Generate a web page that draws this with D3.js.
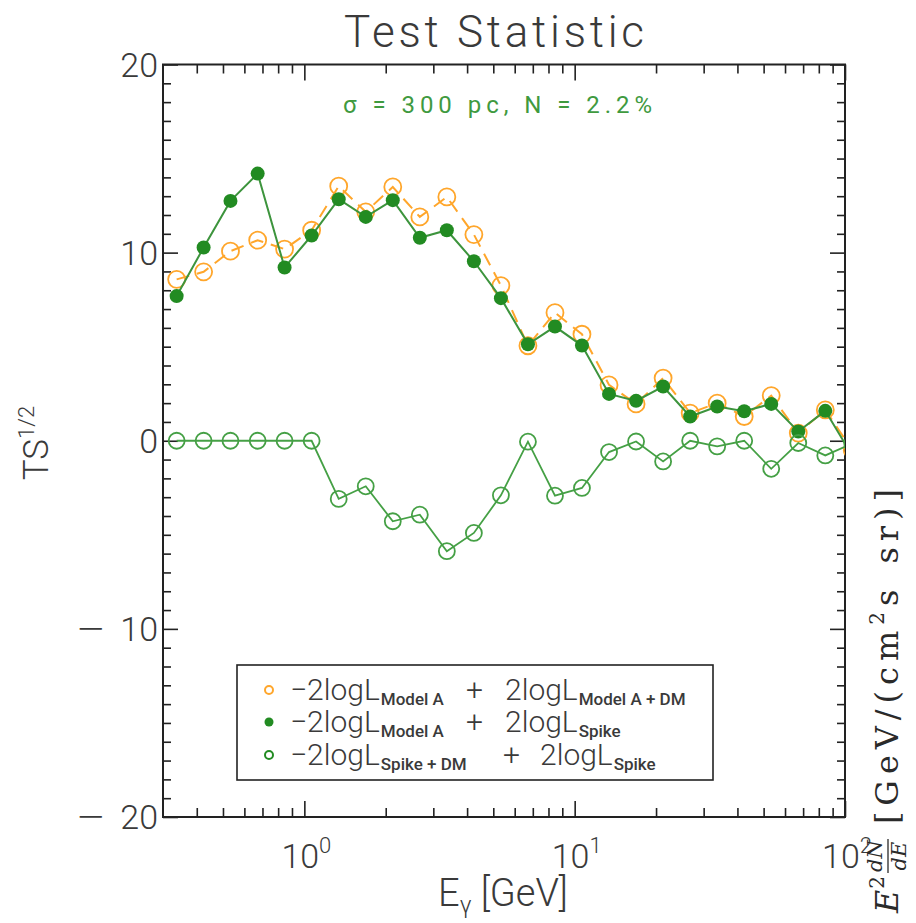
<!DOCTYPE html>
<html>
<head>
<meta charset="utf-8">
<script src="https://cdn.jsdelivr.net/npm/d3@7"></script>
<style>
  body { margin: 0; background: #fff; }
  svg { display: block; }
</style>
</head>
<body>
<script>
// Photon energy bin centres [GeV]
const energy = [0.337, 0.424, 0.533, 0.672, 0.845, 1.064, 1.340, 1.687, 2.124, 2.674,
                3.366, 4.238, 5.335, 6.716, 8.455, 10.64, 13.40, 16.87, 21.24, 26.74,
                33.66, 42.38, 53.35, 67.16, 84.55, 106.4];
// -2logL(Model A) + 2logL(Model A + DM)
const tsModelADM = [8.58, 8.98, 10.08, 10.66, 10.19, 11.19, 13.53, 12.17, 13.49, 11.90,
                    12.96, 10.96, 8.25, 5.05, 6.81, 5.66, 2.97, 1.96, 3.33, 1.47,
                    2.00, 1.29, 2.40, 0.41, 1.64, -0.5];
// -2logL(Model A) + 2logL(Spike)
const tsSpike = [7.69, 10.27, 12.75, 14.20, 9.21, 10.91, 12.84, 11.90, 12.79, 10.79,
                 11.19, 9.54, 7.58, 5.13, 6.07, 5.06, 2.49, 2.12, 2.88, 1.29,
                 1.82, 1.57, 1.96, 0.49, 1.59, -0.8];
// -2logL(Spike + DM) + 2logL(Spike)
const tsSpikeDM = [0, 0, 0, 0, 0, 0, -3.09, -2.42, -4.28, -3.93,
                   -5.87, -4.90, -2.90, -0.05, -2.92, -2.51, -0.60, -0.04, -1.10, 0,
                   -0.30, 0, -1.49, -0.12, -0.78, -0.15];

const yTickValues = [-20, -10, 0, 10, 20];
const xTickValues = [1, 10, 100];
const xTickExponents = ["0", "1", "2"];

const W = 916, H = 923;
const M = { left: 163, right: 845, top: 64.5, bottom: 817 };
const SANS = "Roboto, 'Liberation Sans', Arial, sans-serif";
const SERIF = "'DejaVu Serif', 'Liberation Serif', 'Times New Roman', serif";
const INK = "#3a3a3a";
const LIGHT = 300;
const ORANGE = "#ffa62b";
const GREEN = "#228b22";
const GREEN_LINE = "#3d943d";
const GREEN_OPEN = "#45a045";

const svg = d3.select("body").append("svg")
  .attr("width", W).attr("height", H)
  .attr("viewBox", `0 0 ${W} ${H}`);
svg.append("rect").attr("width", W).attr("height", H).attr("fill", "#fff");

const x = d3.scaleLog().domain([0.3, 100]).range([M.left, M.right]);
const y = d3.scaleLinear().domain([-20, 20]).range([M.bottom, M.top]);

// ---- inward ticks on all four sides ----
const minorY = d3.range(-20, 21, 1).filter(v => v % 10 !== 0);
const minorX = [];
[0.1, 1, 10].forEach(d => {
  for (let m = 2; m <= 9; m++) {
    const v = m * d;
    if (v > 0.3 + 1e-9 && v < 100) minorX.push(v);
  }
});

function tickAxis(axis, tx, ty) {
  const g = svg.append("g").attr("transform", `translate(${tx},${ty})`).call(axis);
  g.select(".domain").remove();
  g.selectAll("text").remove();
  g.selectAll("line").attr("stroke", "#222").attr("stroke-width", 1.6);
  return g;
}
tickAxis(d3.axisLeft(y).tickValues(minorY).tickSize(-8), M.left, 0);
tickAxis(d3.axisLeft(y).tickValues(yTickValues).tickSize(-15), M.left, 0);
tickAxis(d3.axisRight(y).tickValues(minorY).tickSize(-8), M.right, 0);
tickAxis(d3.axisRight(y).tickValues(yTickValues).tickSize(-15), M.right, 0);
tickAxis(d3.axisBottom(x).tickValues(minorX).tickSize(-9), 0, M.bottom);
tickAxis(d3.axisBottom(x).tickValues(xTickValues).tickSize(-16), 0, M.bottom);
tickAxis(d3.axisTop(x).tickValues(minorX).tickSize(-9), 0, M.top);
tickAxis(d3.axisTop(x).tickValues(xTickValues).tickSize(-16), 0, M.top);

// frame
svg.append("rect")
  .attr("x", M.left).attr("y", M.top)
  .attr("width", M.right - M.left).attr("height", M.bottom - M.top)
  .attr("fill", "none").attr("stroke", "#222").attr("stroke-width", 2);

// ---- tick labels ----
const yLab = svg.append("g").attr("font-family", SANS).attr("font-weight", LIGHT)
  .attr("font-size", 34).attr("fill", INK);
yTickValues.forEach(v => {
  const base = y(v) + 12;
  yLab.append("text")
    .attr("x", 158).attr("y", base)
    .attr("text-anchor", "end")
    .text(String(Math.abs(v)));
  if (v < 0) {
    // wide, thin minus sign set apart from the digits
    yLab.append("text")
      .attr("transform", `translate(75,${base}) scale(1.6,1)`)
      .text("\u2212");
  }
});

const xLab = svg.append("g").attr("font-family", SANS).attr("font-weight", LIGHT).attr("fill", INK);
xTickValues.forEach((v, i) => {
  const t = xLab.append("text")
    .attr("x", x(v) + 2).attr("y", 868)
    .attr("text-anchor", "middle").attr("font-size", 34);
  t.append("tspan").text("10");
  t.append("tspan").attr("dy", -15).attr("font-size", 22).text(xTickExponents[i]);
});

// ---- axis titles ----
svg.append("text")
  .attr("x", 494).attr("y", 47)
  .attr("text-anchor", "middle")
  .attr("font-family", SANS).attr("font-weight", LIGHT)
  .attr("font-size", 44).attr("fill", INK)
  .attr("textLength", 300).attr("lengthAdjust", "spacing")
  .text("Test Statistic");

const yTitle = svg.append("text")
  .attr("transform", "translate(48,443) rotate(-90)")
  .attr("text-anchor", "middle")
  .attr("font-family", SANS).attr("font-weight", LIGHT)
  .attr("font-size", 35).attr("fill", INK);
yTitle.append("tspan").text("TS");
yTitle.append("tspan").attr("dy", -14).attr("font-size", 22).text("1/2");

const xTitle = svg.append("text")
  .attr("x", 503).attr("y", 906)
  .attr("text-anchor", "middle")
  .attr("font-family", SANS).attr("font-weight", LIGHT)
  .attr("font-size", 38).attr("fill", INK);
xTitle.append("tspan").text("E");
xTitle.append("tspan").attr("dy", 7).attr("font-size", 24).text("\u03b3");
xTitle.append("tspan").attr("dy", -7).text(" [GeV]");

// annotation
svg.append("text")
  .attr("x", 343).attr("y", 113)
  .attr("font-family", SANS).attr("font-size", 24).attr("fill", "#3f9a3f")
  .attr("textLength", 309).attr("lengthAdjust", "spacing")
  .text("\u03c3 = 300 pc, N = 2.2%");

// ---- data ----
svg.append("clipPath").attr("id", "plotClip")
  .append("rect")
  .attr("x", M.left).attr("y", M.top)
  .attr("width", M.right - M.left).attr("height", M.bottom - M.top);
const plot = svg.append("g").attr("clip-path", "url(#plotClip)");

function series(values) {
  return values.map((v, i) => ({ e: energy[i], v }));
}
const line = d3.line().x(d => x(d.e)).y(d => y(d.v));

// Model A vs Model A + DM : orange dashed with open circles
const sA = series(tsModelADM);
plot.append("path").datum(sA).attr("d", line)
  .attr("fill", "none").attr("stroke", ORANGE).attr("stroke-width", 2)
  .attr("stroke-dasharray", "13,8");
plot.selectAll(".ptA").data(sA).join("circle")
  .attr("cx", d => x(d.e)).attr("cy", d => y(d.v)).attr("r", 8.5)
  .attr("fill", "none").attr("stroke", ORANGE).attr("stroke-width", 1.8);

// Model A vs Spike : green solid with filled circles
const sS = series(tsSpike);
plot.append("path").datum(sS).attr("d", line)
  .attr("fill", "none").attr("stroke", GREEN_LINE).attr("stroke-width", 2);
plot.selectAll(".ptS").data(sS).join("circle")
  .attr("cx", d => x(d.e)).attr("cy", d => y(d.v)).attr("r", 7)
  .attr("fill", GREEN).attr("stroke", "none");

// Spike + DM vs Spike : green solid with open circles
const sD = series(tsSpikeDM);
plot.append("path").datum(sD).attr("d", line)
  .attr("fill", "none").attr("stroke", GREEN_OPEN).attr("stroke-width", 1.8);
plot.selectAll(".ptD").data(sD).join("circle")
  .attr("cx", d => x(d.e)).attr("cy", d => y(d.v)).attr("r", 8)
  .attr("fill", "none").attr("stroke", GREEN_OPEN).attr("stroke-width", 1.8);

// ---- legend ----
const leg = svg.append("g").attr("font-family", SANS).attr("fill", INK);
leg.append("rect")
  .attr("x", 237).attr("y", 665).attr("width", 476).attr("height", 115)
  .attr("fill", "#fff").attr("stroke", "#222").attr("stroke-width", 1.6);

const legendRows = [
  { cy: 690, marker: "open", color: ORANGE,
    parts: [["\u22122logL", 290, "Model A"], ["+", 466, null], ["2logL", 505, "Model A + DM"]] },
  { cy: 722, marker: "filled", color: GREEN,
    parts: [["\u22122logL", 290, "Model A"], ["+", 466, null], ["2logL", 505, "Spike"]] },
  { cy: 755, marker: "open", color: GREEN,
    parts: [["\u22122logL", 290, "Spike + DM"], ["+", 503, null], ["2logL", 540, "Spike"]] }
];
legendRows.forEach(r => {
  leg.append("circle")
    .attr("cx", 269).attr("cy", r.cy).attr("r", r.marker === "filled" ? 4.5 : 4)
    .attr("fill", r.marker === "filled" ? r.color : "none")
    .attr("stroke", r.marker === "filled" ? "none" : r.color)
    .attr("stroke-width", 2);
  r.parts.forEach(([main, px, sub]) => {
    const t = leg.append("text").attr("x", px).attr("y", r.cy + 10).attr("font-size", 30)
      .attr("font-weight", LIGHT);
    t.append("tspan").text(main);
    if (sub) {
      t.append("tspan").attr("dy", 5).attr("font-size", 17).attr("font-weight", 500)
        .attr("dx", 1).text(sub);
    }
  });
});

// ---- right-hand spectrum axis title (reads bottom to top) ----
const RT_LENGTH = 430;
function drawSpectrumTitle(ls) {
  const rt = svg.append("g")
    .attr("transform", "translate(898,913) rotate(-90)")
    .attr("font-family", SERIF).attr("fill", "#2a2a2a");
  let u = 0;
  const e1 = rt.append("text").attr("x", u).attr("y", 0).attr("font-size", 32)
    .attr("font-style", "italic").text("E");
  u += e1.node().getComputedTextLength() + 1;
  const e2 = rt.append("text").attr("x", u).attr("y", -14).attr("font-size", 20).text("2");
  u += e2.node().getComputedTextLength() + 4;
  const num = rt.append("text").attr("x", u).attr("y", -16).attr("font-size", 21)
    .attr("font-style", "italic").text("dN");
  const den = rt.append("text").attr("x", u).attr("y", 8).attr("font-size", 21)
    .attr("font-style", "italic").text("dE");
  const fw = Math.max(num.node().getComputedTextLength(), den.node().getComputedTextLength());
  num.attr("x", u + (fw - num.node().getComputedTextLength()) / 2);
  den.attr("x", u + (fw - den.node().getComputedTextLength()) / 2);
  rt.append("line").attr("x1", u - 1).attr("x2", u + fw + 1)
    .attr("y1", -10).attr("y2", -10).attr("stroke", "#2a2a2a").attr("stroke-width", 1.3);
  u += fw + 16;
  const g1 = rt.append("text").attr("x", u).attr("y", 0).attr("font-size", 32)
    .attr("letter-spacing", ls).text("[GeV/(cm");
  u += g1.node().getComputedTextLength();
  const g2 = rt.append("text").attr("x", u).attr("y", -14).attr("font-size", 20).text("2");
  u += g2.node().getComputedTextLength() + 6;
  const g3 = rt.append("text").attr("x", u).attr("y", 0).attr("font-size", 32)
    .attr("letter-spacing", ls).attr("word-spacing", 4).text("s sr)]");
  u += g3.node().getComputedTextLength();
  return { g: rt, length: u };
}
const probe = drawSpectrumTitle(0);
const spread = Math.max(0, (RT_LENGTH - probe.length) / 14);
probe.g.remove();
drawSpectrumTitle(spread);
</script>
</body>
</html>
